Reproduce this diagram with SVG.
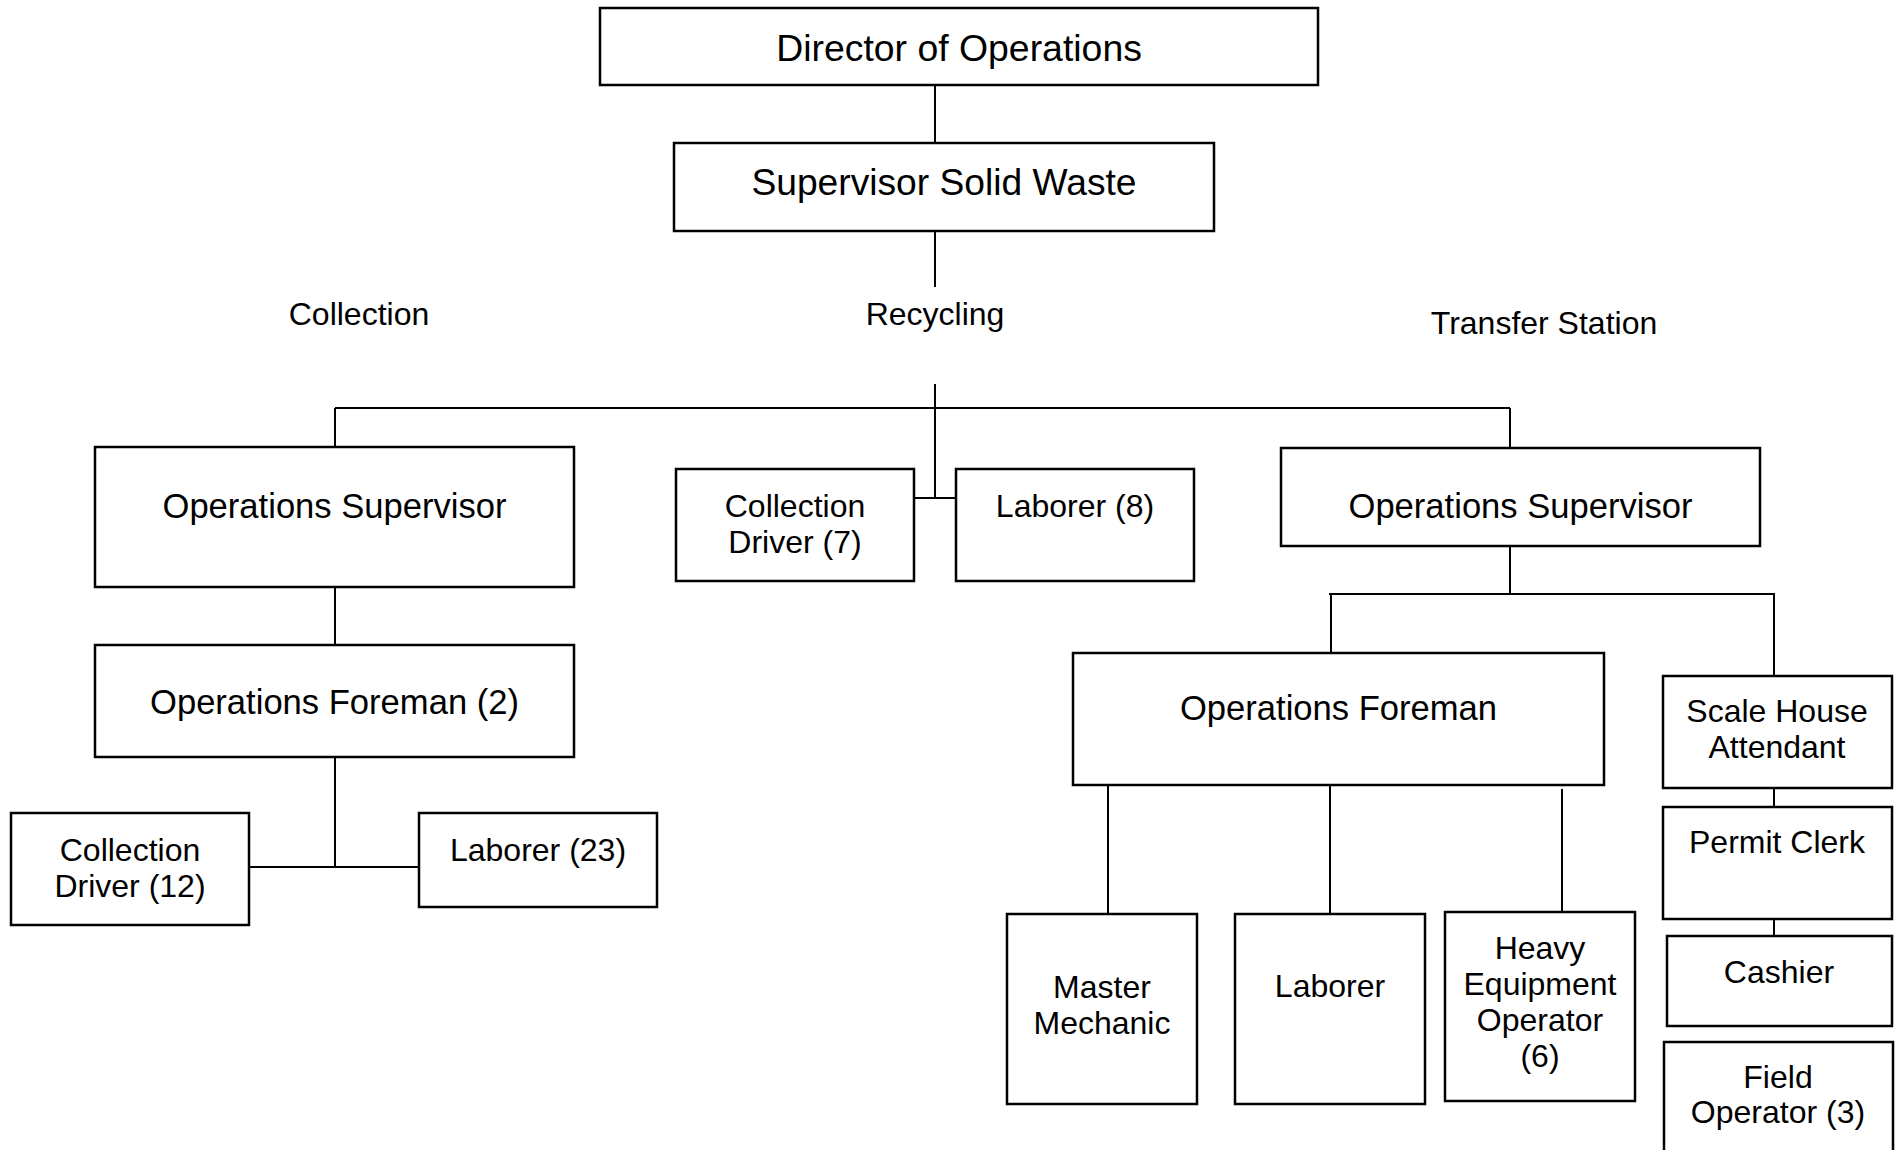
<svg xmlns="http://www.w3.org/2000/svg" width="1904" height="1150" viewBox="0 0 1904 1150">
  <style>
    .box { fill: #fff; stroke: #000; stroke-width: 2.5; }
    .ln { fill: none; stroke: #000; stroke-width: 2; }
    text { font-family: "Liberation Sans", Arial, sans-serif; fill: #000; text-anchor: middle; }
    .t32 { font-size: 32px; }
    .t35 { font-size: 34.6px; }
    .t37 { font-size: 37.2px; }
    .lbl { font-size: 32px; }
  </style>
  <rect width="1904" height="1150" fill="#fff"/>

  <!-- connectors -->
  <g id="connectors">
    <path class="ln" d="M935 85 V143"/>
    <path class="ln" d="M935 231 V287"/>
    <path class="ln" d="M935 384 V498"/>
    <path class="ln" d="M335 408 H1510"/>
    <path class="ln" d="M335 408 V447"/>
    <path class="ln" d="M1510 408 V448"/>
    <path class="ln" d="M914 498 H956"/>
    <path class="ln" d="M335 587 V645"/>
    <path class="ln" d="M335 757 V867"/>
    <path class="ln" d="M249 867 H419"/>
    <path class="ln" d="M1510 546 V594"/>
    <path class="ln" d="M1329 594 H1775"/>
    <path class="ln" d="M1331 594 V652"/>
    <path class="ln" d="M1774 594 V676"/>
    <path class="ln" d="M1108 785 V914"/>
    <path class="ln" d="M1330 785 V914"/>
    <path class="ln" d="M1562 789 V912"/>
    <path class="ln" d="M1774 788 V807"/>
    <path class="ln" d="M1774 919 V936"/>
  </g>

  <!-- section labels -->
  <g id="labels">
    <text class="lbl" x="359" y="325">Collection</text>
    <text class="lbl" x="935" y="325">Recycling</text>
    <text class="lbl" x="1544" y="334">Transfer Station</text>
  </g>

  <g id="director">
    <rect class="box" x="600" y="8" width="718" height="77"/>
    <text class="t37" x="959" y="61" style="font-size:37.4px">Director of Operations</text>
  </g>

  <g id="supervisor-solid-waste">
    <rect class="box" x="674" y="143" width="540" height="88"/>
    <text class="t37" x="944" y="195">Supervisor Solid Waste</text>
  </g>

  <!-- Collection -->
  <g id="collection-ops-supervisor">
    <rect class="box" x="95" y="447" width="479" height="140"/>
    <text class="t35" x="334.5" y="518">Operations Supervisor</text>
  </g>
  <g id="collection-ops-foreman">
    <rect class="box" x="95" y="645" width="479" height="112"/>
    <text class="t35" x="334.5" y="714">Operations Foreman (2)</text>
  </g>
  <g id="collection-driver-12">
    <rect class="box" x="11" y="813" width="238" height="112"/>
    <text class="t32" x="130" y="861">Collection</text>
    <text class="t32" x="130" y="897">Driver (12)</text>
  </g>
  <g id="collection-laborer-23">
    <rect class="box" x="419" y="813" width="238" height="94"/>
    <text class="t32" x="538" y="861">Laborer (23)</text>
  </g>

  <!-- Recycling -->
  <g id="recycling-driver-7">
    <rect class="box" x="676" y="469" width="238" height="112"/>
    <text class="t32" x="795" y="517">Collection</text>
    <text class="t32" x="795" y="553">Driver (7)</text>
  </g>
  <g id="recycling-laborer-8">
    <rect class="box" x="956" y="469" width="238" height="112"/>
    <text class="t32" x="1075" y="517">Laborer (8)</text>
  </g>

  <!-- Transfer Station -->
  <g id="transfer-ops-supervisor">
    <rect class="box" x="1281" y="448" width="479" height="98"/>
    <text class="t35" x="1520.5" y="518">Operations Supervisor</text>
  </g>
  <g id="transfer-ops-foreman">
    <rect class="box" x="1073" y="653" width="531" height="132"/>
    <text class="t35" x="1338.5" y="720">Operations Foreman</text>
  </g>
  <g id="master-mechanic">
    <rect class="box" x="1007" y="914" width="190" height="190"/>
    <text class="t32" x="1102" y="998">Master</text>
    <text class="t32" x="1102" y="1034">Mechanic</text>
  </g>
  <g id="transfer-laborer">
    <rect class="box" x="1235" y="914" width="190" height="190"/>
    <text class="t32" x="1330" y="997">Laborer</text>
  </g>
  <g id="heavy-equipment-operator">
    <rect class="box" x="1445" y="912" width="190" height="189"/>
    <text class="t32" x="1540" y="959">Heavy</text>
    <text class="t32" x="1540" y="995">Equipment</text>
    <text class="t32" x="1540" y="1031">Operator</text>
    <text class="t32" x="1540" y="1067">(6)</text>
  </g>
  <g id="scale-house-attendant">
    <rect class="box" x="1663" y="676" width="229" height="112"/>
    <text class="t32" x="1777" y="722">Scale House</text>
    <text class="t32" x="1777" y="758">Attendant</text>
  </g>
  <g id="permit-clerk">
    <rect class="box" x="1663" y="807" width="229" height="112"/>
    <text class="t32" x="1777" y="853">Permit Clerk</text>
  </g>
  <g id="cashier">
    <rect class="box" x="1667" y="936" width="225" height="90"/>
    <text class="t32" x="1779" y="983">Cashier</text>
  </g>
  <g id="field-operator">
    <rect class="box" x="1664" y="1042" width="229" height="130"/>
    <text class="t32" x="1778" y="1088">Field</text>
    <text class="t32" x="1778" y="1123">Operator (3)</text>
  </g>
</svg>
